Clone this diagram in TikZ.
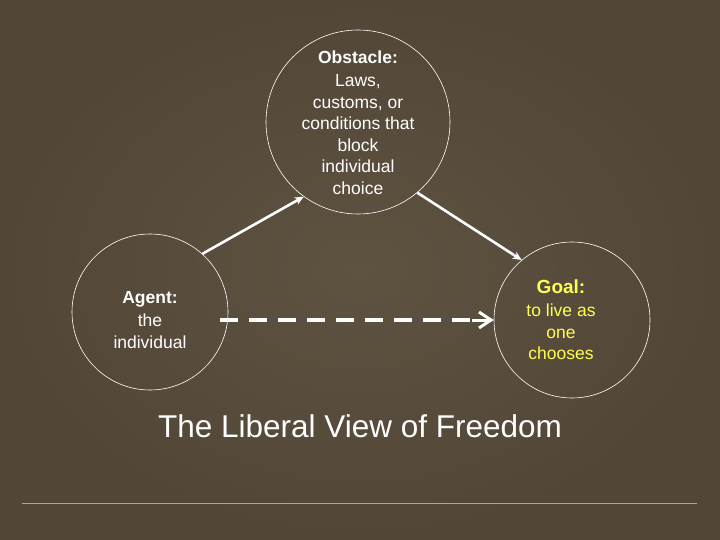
\documentclass[tikz,border=0pt]{standalone}
\usepackage{fontspec}
\usetikzlibrary{arrows.meta}
\setmainfont{Liberation Sans}
\begin{document}
\begin{tikzpicture}[x=1pt,y=-1pt,
  circ/.style={circle,draw=white,line width=0.6pt,minimum size=#1,inner sep=0pt},
  lbl/.style={text=white,align=center,font=\fontsize{17.5}{21.6}\selectfont},
  arr/.style={white,line width=2.6pt,-{Stealth[length=9pt,width=8pt]}}]
\shade[inner color={rgb,255:red,94;green,82;blue,65},outer color={rgb,255:red,82;green,70;blue,55}] (0,0) rectangle (720,540);
\useasboundingbox (0,0) rectangle (720,540);
\node[circ=184pt] (obs) at (358,122) {};
\node[circ=156pt] (agent) at (150,312) {};
\node[circ=156pt] (goal) at (572,320) {};
\node[lbl] (obst) at (358,123) {\textbf{Obstacle:}\\[1pt]Laws,\\customs, or\\conditions that\\block\\individual\\choice};
\node[lbl] (agt) at (150,320) {\textbf{Agent:}\\[2pt]the\\individual};
\node[lbl,text={rgb,255:red,255;green,255;blue,80}] (gt) at (561,320) {\textbf{\fontsize{19}{22}\selectfont Goal:}\\[1pt]to live as\\one\\chooses};
\node[text=white,font=\fontsize{31.5}{36}\selectfont] (title) at (360,426) {The Liberal View of Freedom};
\coordinate (ds) at (220,320);
\coordinate (de) at (478,320);
\draw[arr] (agent.48) -- (obs.234);
\draw[arr] (obs.-50) -- (goal.130);
\draw[white,line width=4.5pt,dash pattern=on 18pt off 11pt] (ds) -- (de);
\draw[white,line width=3pt,-{Straight Barb[length=12pt,width=16pt]}] ([xshift=-6pt]de) -- (goal.west);
\coordinate (l1) at (22,503); \coordinate (l2) at (697,503);
\draw[gray!70,line width=0.8pt] (l1) -- (l2);
\end{tikzpicture}
\end{document}
